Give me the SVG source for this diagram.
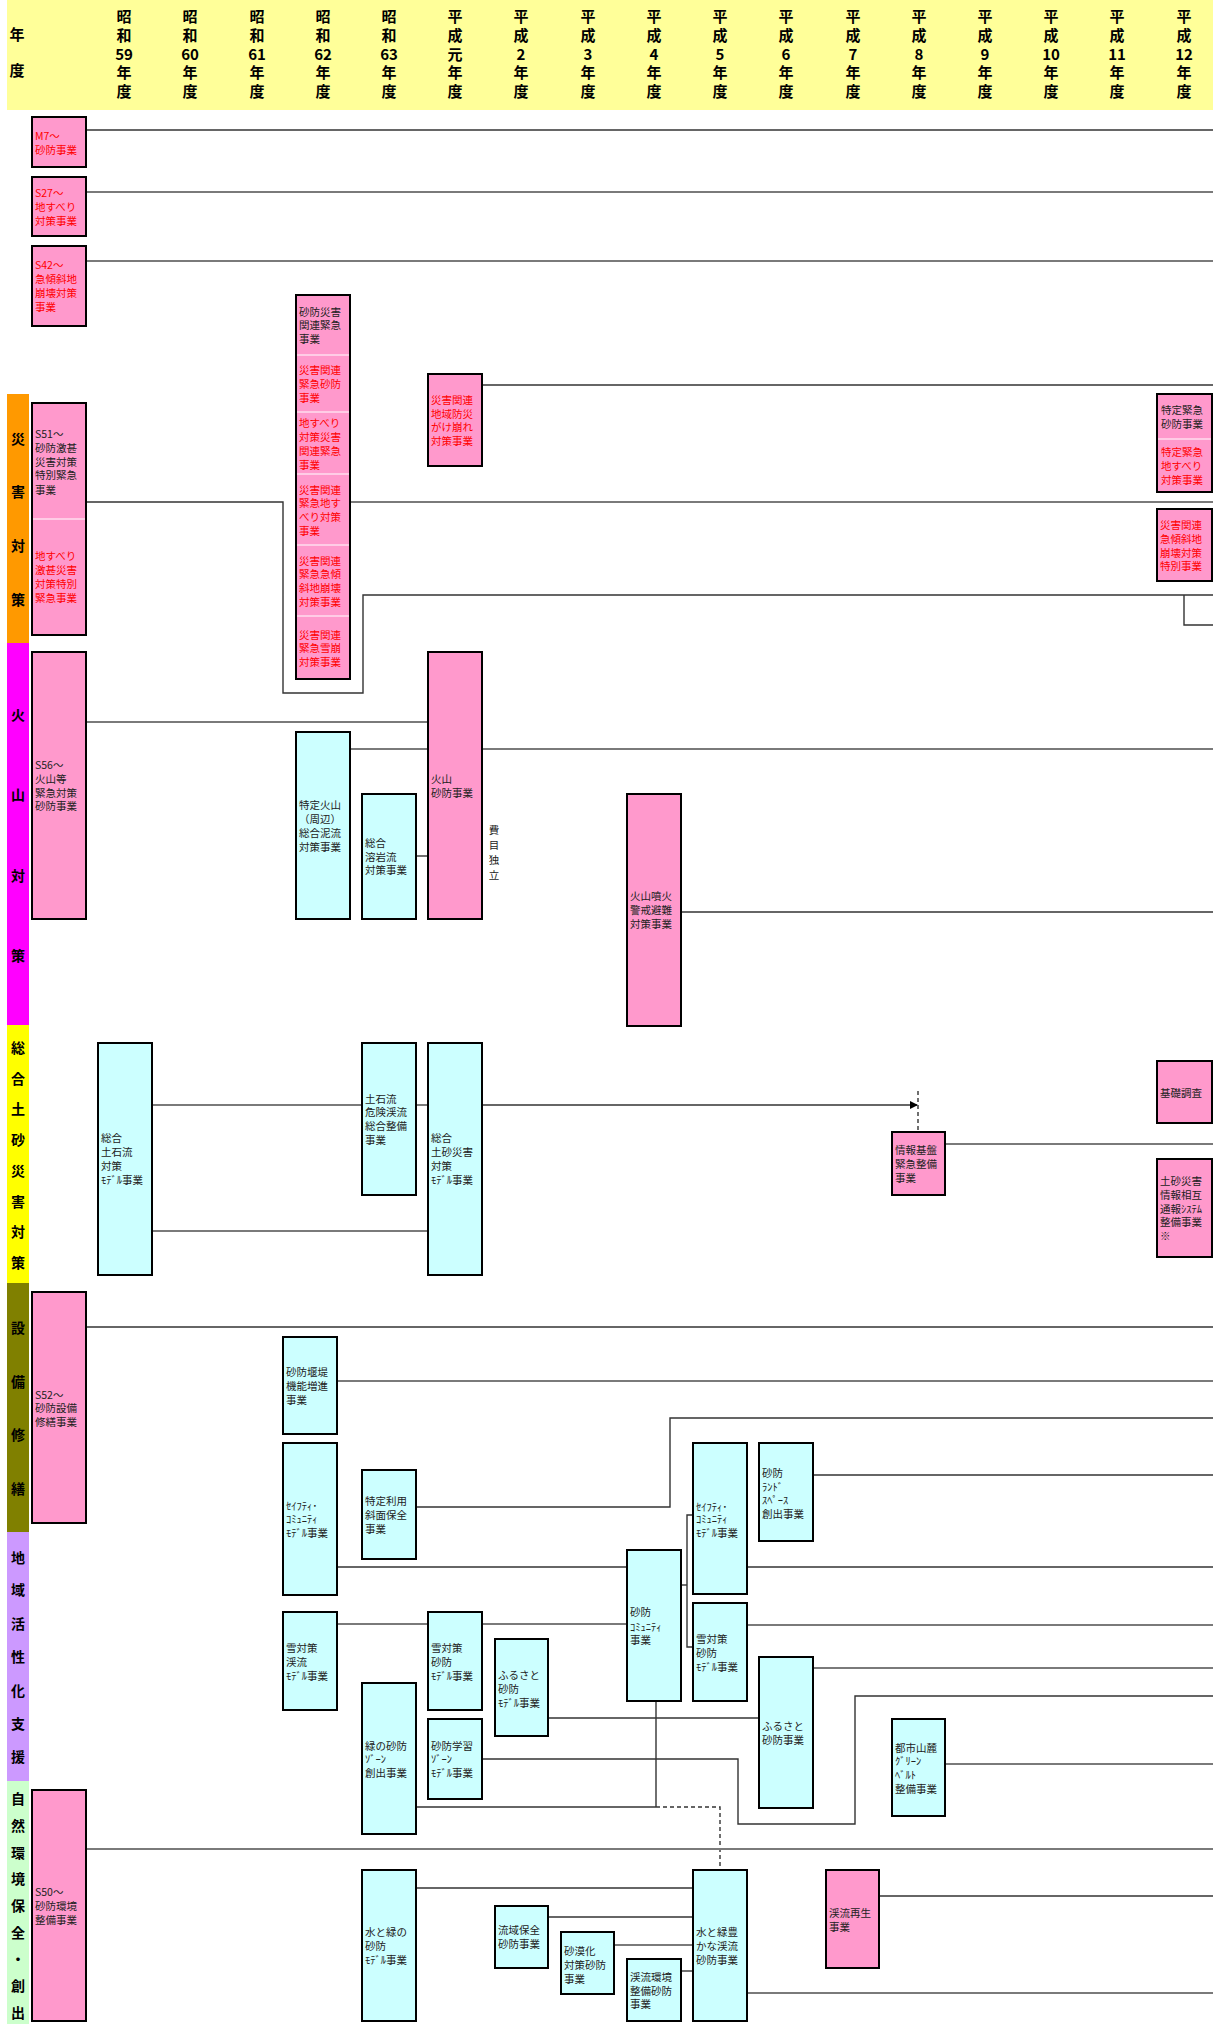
<svg xmlns="http://www.w3.org/2000/svg" width="1213" height="2024" viewBox="0 0 1213 2024">
<style>
text{font-family:"Noto Sans CJK JP","Noto Sans CJK SC",sans-serif}
.h{font-size:15px;font-weight:bold;text-anchor:middle;fill:#000}
.bd{font-size:14px;font-weight:bold;text-anchor:middle;fill:#000}
.t{font-size:10.5px;fill:#222}
.r{font-size:10.5px;fill:#ff0000}
.pk{fill:#ff99cc;stroke:#000;stroke-width:2}
.cy{fill:#ccffff;stroke:#000;stroke-width:2}
.cell{fill:#ff99cc;stroke:none}
.sep{stroke:#fff;stroke-width:1}
.frame{fill:none;stroke:#000;stroke-width:2}
.c{fill:none;stroke:#333;stroke-width:1.4}
.g{fill:none;stroke:#7a7a7a;stroke-width:2}
.d{fill:none;stroke:#333;stroke-width:1.4;stroke-dasharray:4 3}
</style>
<defs>
<marker id="ar" markerWidth="8" markerHeight="8" refX="7" refY="4" orient="auto" markerUnits="userSpaceOnUse">
<path d="M0,0 L8,4 L0,8 Z" fill="#000"/>
</marker>
</defs>
<rect width="1213" height="2024" fill="#fff"/>

<g id="header">
<rect x="7" y="0" width="1206" height="110" fill="#ffff99"/>
<text class="h" x="17" y="40">年</text>
<text class="h" x="17" y="76">度</text>
<g>
<text class="h" x="124" y="22">昭</text><text class="h" x="124" y="41">和</text><text class="h" x="124" y="60">59</text><text class="h" x="124" y="78">年</text><text class="h" x="124" y="97">度</text>
<text class="h" x="190" y="22">昭</text><text class="h" x="190" y="41">和</text><text class="h" x="190" y="60">60</text><text class="h" x="190" y="78">年</text><text class="h" x="190" y="97">度</text>
<text class="h" x="257" y="22">昭</text><text class="h" x="257" y="41">和</text><text class="h" x="257" y="60">61</text><text class="h" x="257" y="78">年</text><text class="h" x="257" y="97">度</text>
<text class="h" x="323" y="22">昭</text><text class="h" x="323" y="41">和</text><text class="h" x="323" y="60">62</text><text class="h" x="323" y="78">年</text><text class="h" x="323" y="97">度</text>
<text class="h" x="389" y="22">昭</text><text class="h" x="389" y="41">和</text><text class="h" x="389" y="60">63</text><text class="h" x="389" y="78">年</text><text class="h" x="389" y="97">度</text>
<text class="h" x="455" y="22">平</text><text class="h" x="455" y="41">成</text><text class="h" x="455" y="60">元</text><text class="h" x="455" y="78">年</text><text class="h" x="455" y="97">度</text>
<text class="h" x="521" y="22">平</text><text class="h" x="521" y="41">成</text><text class="h" x="521" y="60">2</text><text class="h" x="521" y="78">年</text><text class="h" x="521" y="97">度</text>
<text class="h" x="588" y="22">平</text><text class="h" x="588" y="41">成</text><text class="h" x="588" y="60">3</text><text class="h" x="588" y="78">年</text><text class="h" x="588" y="97">度</text>
<text class="h" x="654" y="22">平</text><text class="h" x="654" y="41">成</text><text class="h" x="654" y="60">4</text><text class="h" x="654" y="78">年</text><text class="h" x="654" y="97">度</text>
<text class="h" x="720" y="22">平</text><text class="h" x="720" y="41">成</text><text class="h" x="720" y="60">5</text><text class="h" x="720" y="78">年</text><text class="h" x="720" y="97">度</text>
<text class="h" x="786" y="22">平</text><text class="h" x="786" y="41">成</text><text class="h" x="786" y="60">6</text><text class="h" x="786" y="78">年</text><text class="h" x="786" y="97">度</text>
<text class="h" x="853" y="22">平</text><text class="h" x="853" y="41">成</text><text class="h" x="853" y="60">7</text><text class="h" x="853" y="78">年</text><text class="h" x="853" y="97">度</text>
<text class="h" x="919" y="22">平</text><text class="h" x="919" y="41">成</text><text class="h" x="919" y="60">8</text><text class="h" x="919" y="78">年</text><text class="h" x="919" y="97">度</text>
<text class="h" x="985" y="22">平</text><text class="h" x="985" y="41">成</text><text class="h" x="985" y="60">9</text><text class="h" x="985" y="78">年</text><text class="h" x="985" y="97">度</text>
<text class="h" x="1051" y="22">平</text><text class="h" x="1051" y="41">成</text><text class="h" x="1051" y="60">10</text><text class="h" x="1051" y="78">年</text><text class="h" x="1051" y="97">度</text>
<text class="h" x="1117" y="22">平</text><text class="h" x="1117" y="41">成</text><text class="h" x="1117" y="60">11</text><text class="h" x="1117" y="78">年</text><text class="h" x="1117" y="97">度</text>
<text class="h" x="1184" y="22">平</text><text class="h" x="1184" y="41">成</text><text class="h" x="1184" y="60">12</text><text class="h" x="1184" y="78">年</text><text class="h" x="1184" y="97">度</text>
</g>
</g>

<g id="bands">
<rect x="7" y="394" width="22" height="249" fill="#ff9900"/>
<text class="bd" x="18" y="444">災</text><text class="bd" x="18" y="497">害</text><text class="bd" x="18" y="551">対</text><text class="bd" x="18" y="605">策</text>
<rect x="7" y="643" width="22" height="382" fill="#ff00ff"/>
<text class="bd" x="18" y="720">火</text><text class="bd" x="18" y="800">山</text><text class="bd" x="18" y="881">対</text><text class="bd" x="18" y="961">策</text>
<rect x="7" y="1025" width="22" height="258" fill="#ffff00"/>
<text class="bd" x="18" y="1053">総</text><text class="bd" x="18" y="1084">合</text><text class="bd" x="18" y="1114">土</text><text class="bd" x="18" y="1145">砂</text><text class="bd" x="18" y="1176">災</text><text class="bd" x="18" y="1207">害</text><text class="bd" x="18" y="1237">対</text><text class="bd" x="18" y="1268">策</text>
<rect x="7" y="1283" width="22" height="249" fill="#808000"/>
<text class="bd" x="18" y="1333">設</text><text class="bd" x="18" y="1387">備</text><text class="bd" x="18" y="1440">修</text><text class="bd" x="18" y="1494">繕</text>
<rect x="7" y="1532" width="22" height="249" fill="#cc99ff"/>
<text class="bd" x="18" y="1563">地</text><text class="bd" x="18" y="1595">域</text><text class="bd" x="18" y="1629">活</text><text class="bd" x="18" y="1662">性</text><text class="bd" x="18" y="1696">化</text><text class="bd" x="18" y="1729">支</text><text class="bd" x="18" y="1762">援</text>
<rect x="7" y="1781" width="22" height="243" fill="#ccffcc"/>
<text class="bd" x="18" y="1804">自</text><text class="bd" x="18" y="1831">然</text><text class="bd" x="18" y="1858">環</text><text class="bd" x="18" y="1884">境</text><text class="bd" x="18" y="1911">保</text><text class="bd" x="18" y="1938">全</text><text class="bd" x="18" y="1964">・</text><text class="bd" x="18" y="1991">創</text><text class="bd" x="18" y="2018">出</text>
</g>

<g id="connectors">
<path class="c" d="M86 130H1213"/>
<path class="g" d="M86 192H1213"/>
<path class="g" d="M86 261H1213"/>
<path class="c" d="M86 502H283V693H363V595H1213"/>
<path class="g" d="M350 502H1213"/>
<path class="c" d="M482 385H1213"/>
<path class="c" d="M1184 595V625H1213"/>
<path class="g" d="M86 722H428"/>
<path class="g" d="M350 749H1213"/>
<path class="c" d="M416 856H428"/>
<path class="c" d="M681 912H1213"/>
<path class="g" d="M152 1105H362"/>
<path class="g" d="M416 1105H428"/>
<path class="c" d="M482 1105H917" marker-end="url(#ar)"/>
<path class="d" d="M918 1091V1132"/>
<path class="g" d="M152 1231H428"/>
<path class="g" d="M945 1144H1213"/>
<path class="c" d="M86 1327H1213"/>
<path class="g" d="M337 1381H1213"/>
<path class="c" d="M337 1567H627"/>
<path class="c" d="M416 1507H670V1418H1213"/>
<path class="c" d="M747 1567H1213"/>
<path class="c" d="M813 1475H1213"/>
<path class="g" d="M337 1624H428"/>
<path class="g" d="M482 1624H627"/>
<path class="c" d="M416 1807H656"/>
<path class="c" d="M656 1701V1807"/>
<path class="d" d="M656 1807H720V1870"/>
<path class="c" d="M548 1718H759"/>
<path class="c" d="M482 1759H738V1824H855V1696H1213"/>
<path class="c" d="M681 1585H687"/>
<path class="c" d="M693 1515H687V1647H693"/>
<path class="g" d="M747 1625H1213"/>
<path class="g" d="M813 1668H1213"/>
<path class="g" d="M945 1764H1213"/>
<path class="g" d="M86 1849H1213"/>
<path class="c" d="M416 1888H693"/>
<path class="c" d="M548 1917H693"/>
<path class="g" d="M614 1945H693"/>
<path class="c" d="M681 1971H693"/>
<path class="g" d="M747 1993H1213"/>
<path class="c" d="M879 1896H1213"/>
</g>

<g id="n_m7"><rect class="pk" x="32" y="117" width="54" height="50"/><text class="r" x="35" y="140">M7～</text><text class="r" x="35" y="154">砂防事業</text></g>
<g id="n_s27"><rect class="pk" x="32" y="177" width="54" height="59"/><text class="r" x="35" y="197">S27～</text><text class="r" x="35" y="211">地すべり</text><text class="r" x="35" y="225">対策事業</text></g>
<g id="n_s42"><rect class="pk" x="32" y="246" width="54" height="80"/><text class="r" x="35" y="269">S42～</text><text class="r" x="35" y="283">急傾斜地</text><text class="r" x="35" y="297">崩壊対策</text><text class="r" x="35" y="311">事業</text></g>

<g id="n_s62stack">
<g id="n_s62a"><rect class="cell" x="296" y="295" width="54" height="60"/><text class="t" x="299" y="316">砂防災害</text><text class="t" x="299" y="329">関連緊急</text><text class="t" x="299" y="343">事業</text></g>
<g id="n_s62b"><rect class="cell" x="296" y="355" width="54" height="57"/><text class="r" x="299" y="374">災害関連</text><text class="r" x="299" y="388">緊急砂防</text><text class="r" x="299" y="402">事業</text></g>
<g id="n_s62c"><rect class="cell" x="296" y="412" width="54" height="62"/><text class="r" x="299" y="427">地すべり</text><text class="r" x="299" y="441">対策災害</text><text class="r" x="299" y="455">関連緊急</text><text class="r" x="299" y="469">事業</text></g>
<g id="n_s62d"><rect class="cell" x="296" y="474" width="54" height="71"/><text class="r" x="299" y="494">災害関連</text><text class="r" x="299" y="507">緊急地す</text><text class="r" x="299" y="521">べり対策</text><text class="r" x="299" y="535">事業</text></g>
<g id="n_s62e"><rect class="cell" x="296" y="545" width="54" height="71"/><text class="r" x="299" y="565">災害関連</text><text class="r" x="299" y="578">緊急急傾</text><text class="r" x="299" y="592">斜地崩壊</text><text class="r" x="299" y="606">対策事業</text></g>
<g id="n_s62f"><rect class="cell" x="296" y="616" width="54" height="63"/><text class="r" x="299" y="639">災害関連</text><text class="r" x="299" y="652">緊急雪崩</text><text class="r" x="299" y="666">対策事業</text></g>
<path class="sep" d="M297 355H349M297 412H349M297 474H349M297 545H349M297 616H349"/>
<rect class="frame" x="296" y="295" width="54" height="384"/>
</g>

<g id="n_gake"><rect class="pk" x="428" y="374" width="54" height="92"/><text class="r" x="431" y="404">災害関連</text><text class="r" x="431" y="418">地域防災</text><text class="r" x="431" y="431">がけ崩れ</text><text class="r" x="431" y="445">対策事業</text></g>

<g id="n_tokuteistack">
<g id="n_tokutei1"><rect class="cell" x="1157" y="394" width="55" height="45"/><text class="t" x="1161" y="414">特定緊急</text><text class="t" x="1161" y="428">砂防事業</text></g>
<g id="n_tokutei2"><rect class="cell" x="1157" y="439" width="55" height="53"/><text class="r" x="1161" y="456">特定緊急</text><text class="r" x="1161" y="470">地すべり</text><text class="r" x="1161" y="484">対策事業</text></g>
<path class="sep" d="M1158 439H1211"/>
<rect class="frame" x="1157" y="394" width="55" height="98"/>
</g>
<g id="n_kyukei"><rect class="pk" x="1157" y="509" width="55" height="72"/><text class="r" x="1160" y="529">災害関連</text><text class="r" x="1160" y="543">急傾斜地</text><text class="r" x="1160" y="557">崩壊対策</text><text class="r" x="1160" y="570">特別事業</text></g>

<g id="n_s51stack">
<g id="n_s51a"><rect class="cell" x="32" y="403" width="54" height="116"/><text class="t" x="35" y="438">S51～</text><text class="t" x="35" y="452">砂防激甚</text><text class="t" x="35" y="466">災害対策</text><text class="t" x="35" y="479">特別緊急</text><text class="t" x="35" y="494">事業</text></g>
<g id="n_s51b"><rect class="cell" x="32" y="519" width="54" height="116"/><text class="r" x="35" y="560">地すべり</text><text class="r" x="35" y="574">激甚災害</text><text class="r" x="35" y="588">対策特別</text><text class="r" x="35" y="602">緊急事業</text></g>
<path class="sep" d="M33 519H85"/>
<rect class="frame" x="32" y="403" width="54" height="232"/>
</g>

<g id="n_s56"><rect class="pk" x="32" y="652" width="54" height="267"/><text class="t" x="35" y="769">S56～</text><text class="t" x="35" y="783">火山等</text><text class="t" x="35" y="797">緊急対策</text><text class="t" x="35" y="810">砂防事業</text></g>
<g id="n_tokuteikazan"><rect class="cy" x="296" y="732" width="54" height="187"/><text class="t" x="299" y="809">特定火山</text><text class="t" x="299" y="823">（周辺）</text><text class="t" x="299" y="837">総合泥流</text><text class="t" x="299" y="851">対策事業</text></g>
<g id="n_yogan"><rect class="cy" x="362" y="794" width="54" height="125"/><text class="t" x="365" y="847">総合</text><text class="t" x="365" y="861">溶岩流</text><text class="t" x="365" y="874">対策事業</text></g>
<g id="n_kazan"><rect class="pk" x="428" y="652" width="54" height="267"/><text class="t" x="431" y="783">火山</text><text class="t" x="431" y="797">砂防事業</text></g>
<g id="n_himoku"><text class="t" x="494" y="834" text-anchor="middle">費</text><text class="t" x="494" y="849" text-anchor="middle">目</text><text class="t" x="494" y="864" text-anchor="middle">独</text><text class="t" x="494" y="879" text-anchor="middle">立</text></g>
<g id="n_funka"><rect class="pk" x="627" y="794" width="54" height="232"/><text class="t" x="630" y="900">火山噴火</text><text class="t" x="630" y="914">警戒避難</text><text class="t" x="630" y="928">対策事業</text></g>

<g id="n_sogo1"><rect class="cy" x="98" y="1043" width="54" height="232"/><text class="t" x="101" y="1142">総合</text><text class="t" x="101" y="1156">土石流</text><text class="t" x="101" y="1170">対策</text><text class="t" x="101" y="1184">ﾓﾃﾞﾙ事業</text></g>
<g id="n_dosek"><rect class="cy" x="362" y="1043" width="54" height="152"/><text class="t" x="365" y="1103">土石流</text><text class="t" x="365" y="1116">危険渓流</text><text class="t" x="365" y="1130">総合整備</text><text class="t" x="365" y="1144">事業</text></g>
<g id="n_sogo2"><rect class="cy" x="428" y="1043" width="54" height="232"/><text class="t" x="431" y="1142">総合</text><text class="t" x="431" y="1156">土砂災害</text><text class="t" x="431" y="1170">対策</text><text class="t" x="431" y="1184">ﾓﾃﾞﾙ事業</text></g>
<g id="n_joho"><rect class="pk" x="892" y="1132" width="53" height="63"/><text class="t" x="895" y="1154">情報基盤</text><text class="t" x="895" y="1168">緊急整備</text><text class="t" x="895" y="1182">事業</text></g>
<g id="n_kiso"><rect class="pk" x="1157" y="1061" width="55" height="62"/><text class="t" x="1160" y="1097">基礎調査</text></g>
<g id="n_tsuho"><rect class="pk" x="1157" y="1159" width="55" height="98"/><text class="t" x="1160" y="1185">土砂災害</text><text class="t" x="1160" y="1199">情報相互</text><text class="t" x="1160" y="1213">通報ｼｽﾃﾑ</text><text class="t" x="1160" y="1226">整備事業</text><text class="t" x="1160" y="1240">※</text></g>

<g id="n_s52"><rect class="pk" x="32" y="1292" width="54" height="231"/><text class="t" x="35" y="1399">S52～</text><text class="t" x="35" y="1412">砂防設備</text><text class="t" x="35" y="1426">修繕事業</text></g>
<g id="n_entei"><rect class="cy" x="283" y="1337" width="54" height="97"/><text class="t" x="286" y="1376">砂防堰堤</text><text class="t" x="286" y="1390">機能増進</text><text class="t" x="286" y="1404">事業</text></g>
<g id="n_safe1"><rect class="cy" x="283" y="1443" width="54" height="152"/><text class="t" x="286" y="1510">ｾｲﾌﾃｨ･</text><text class="t" x="286" y="1523">ｺﾐｭﾆﾃｨ</text><text class="t" x="286" y="1537">ﾓﾃﾞﾙ事業</text></g>
<g id="n_shamen"><rect class="cy" x="362" y="1470" width="54" height="89"/><text class="t" x="365" y="1505">特定利用</text><text class="t" x="365" y="1519">斜面保全</text><text class="t" x="365" y="1533">事業</text></g>
<g id="n_safe2"><rect class="cy" x="693" y="1443" width="54" height="151"/><text class="t" x="696" y="1511">ｾｲﾌﾃｨ･</text><text class="t" x="696" y="1523">ｺﾐｭﾆﾃｨ</text><text class="t" x="696" y="1537">ﾓﾃﾞﾙ事業</text></g>
<g id="n_land"><rect class="cy" x="759" y="1443" width="54" height="98"/><text class="t" x="762" y="1477">砂防</text><text class="t" x="762" y="1491">ﾗﾝﾄﾞ</text><text class="t" x="762" y="1504">ｽﾍﾟｰｽ</text><text class="t" x="762" y="1518">創出事業</text></g>

<g id="n_yuki1"><rect class="cy" x="283" y="1612" width="54" height="98"/><text class="t" x="286" y="1652">雪対策</text><text class="t" x="286" y="1666">渓流</text><text class="t" x="286" y="1680">ﾓﾃﾞﾙ事業</text></g>
<g id="n_midori"><rect class="cy" x="362" y="1683" width="54" height="151"/><text class="t" x="365" y="1750">緑の砂防</text><text class="t" x="365" y="1763">ｿﾞｰﾝ</text><text class="t" x="365" y="1777">創出事業</text></g>
<g id="n_yuki2"><rect class="cy" x="428" y="1612" width="54" height="98"/><text class="t" x="431" y="1652">雪対策</text><text class="t" x="431" y="1666">砂防</text><text class="t" x="431" y="1680">ﾓﾃﾞﾙ事業</text></g>
<g id="n_furu1"><rect class="cy" x="495" y="1639" width="53" height="97"/><text class="t" x="498" y="1679">ふるさと</text><text class="t" x="498" y="1693">砂防</text><text class="t" x="498" y="1707">ﾓﾃﾞﾙ事業</text></g>
<g id="n_gakushu"><rect class="cy" x="428" y="1719" width="54" height="80"/><text class="t" x="431" y="1750">砂防学習</text><text class="t" x="431" y="1763">ｿﾞｰﾝ</text><text class="t" x="431" y="1777">ﾓﾃﾞﾙ事業</text></g>
<g id="n_comm"><rect class="cy" x="627" y="1550" width="54" height="151"/><text class="t" x="630" y="1616">砂防</text><text class="t" x="630" y="1631">ｺﾐｭﾆﾃｨ</text><text class="t" x="630" y="1644">事業</text></g>
<g id="n_yuki3"><rect class="cy" x="693" y="1603" width="54" height="98"/><text class="t" x="696" y="1643">雪対策</text><text class="t" x="696" y="1657">砂防</text><text class="t" x="696" y="1671">ﾓﾃﾞﾙ事業</text></g>
<g id="n_furu2"><rect class="cy" x="759" y="1657" width="54" height="151"/><text class="t" x="762" y="1730">ふるさと</text><text class="t" x="762" y="1744">砂防事業</text></g>
<g id="n_toshi"><rect class="cy" x="892" y="1719" width="53" height="97"/><text class="t" x="895" y="1752">都市山麓</text><text class="t" x="895" y="1765">ｸﾞﾘｰﾝ</text><text class="t" x="895" y="1779">ﾍﾞﾙﾄ</text><text class="t" x="895" y="1793">整備事業</text></g>

<g id="n_s50"><rect class="pk" x="32" y="1790" width="54" height="231"/><text class="t" x="35" y="1896">S50～</text><text class="t" x="35" y="1910">砂防環境</text><text class="t" x="35" y="1924">整備事業</text></g>
<g id="n_mizu1"><rect class="cy" x="362" y="1870" width="54" height="151"/><text class="t" x="365" y="1936">水と緑の</text><text class="t" x="365" y="1950">砂防</text><text class="t" x="365" y="1964">ﾓﾃﾞﾙ事業</text></g>
<g id="n_ryuiki"><rect class="cy" x="495" y="1906" width="53" height="62"/><text class="t" x="498" y="1934">流域保全</text><text class="t" x="498" y="1948">砂防事業</text></g>
<g id="n_sabaku"><rect class="cy" x="561" y="1932" width="53" height="62"/><text class="t" x="564" y="1955">砂漠化</text><text class="t" x="564" y="1969">対策砂防</text><text class="t" x="564" y="1983">事業</text></g>
<g id="n_keiryu"><rect class="cy" x="627" y="1959" width="54" height="62"/><text class="t" x="630" y="1981">渓流環境</text><text class="t" x="630" y="1995">整備砂防</text><text class="t" x="630" y="2008">事業</text></g>
<g id="n_mizu2"><rect class="cy" x="693" y="1870" width="54" height="151"/><text class="t" x="696" y="1936">水と緑豊</text><text class="t" x="696" y="1950">かな渓流</text><text class="t" x="696" y="1964">砂防事業</text></g>
<g id="n_saisei"><rect class="pk" x="826" y="1870" width="53" height="98"/><text class="t" x="829" y="1917">渓流再生</text><text class="t" x="829" y="1931">事業</text></g>
</svg>
